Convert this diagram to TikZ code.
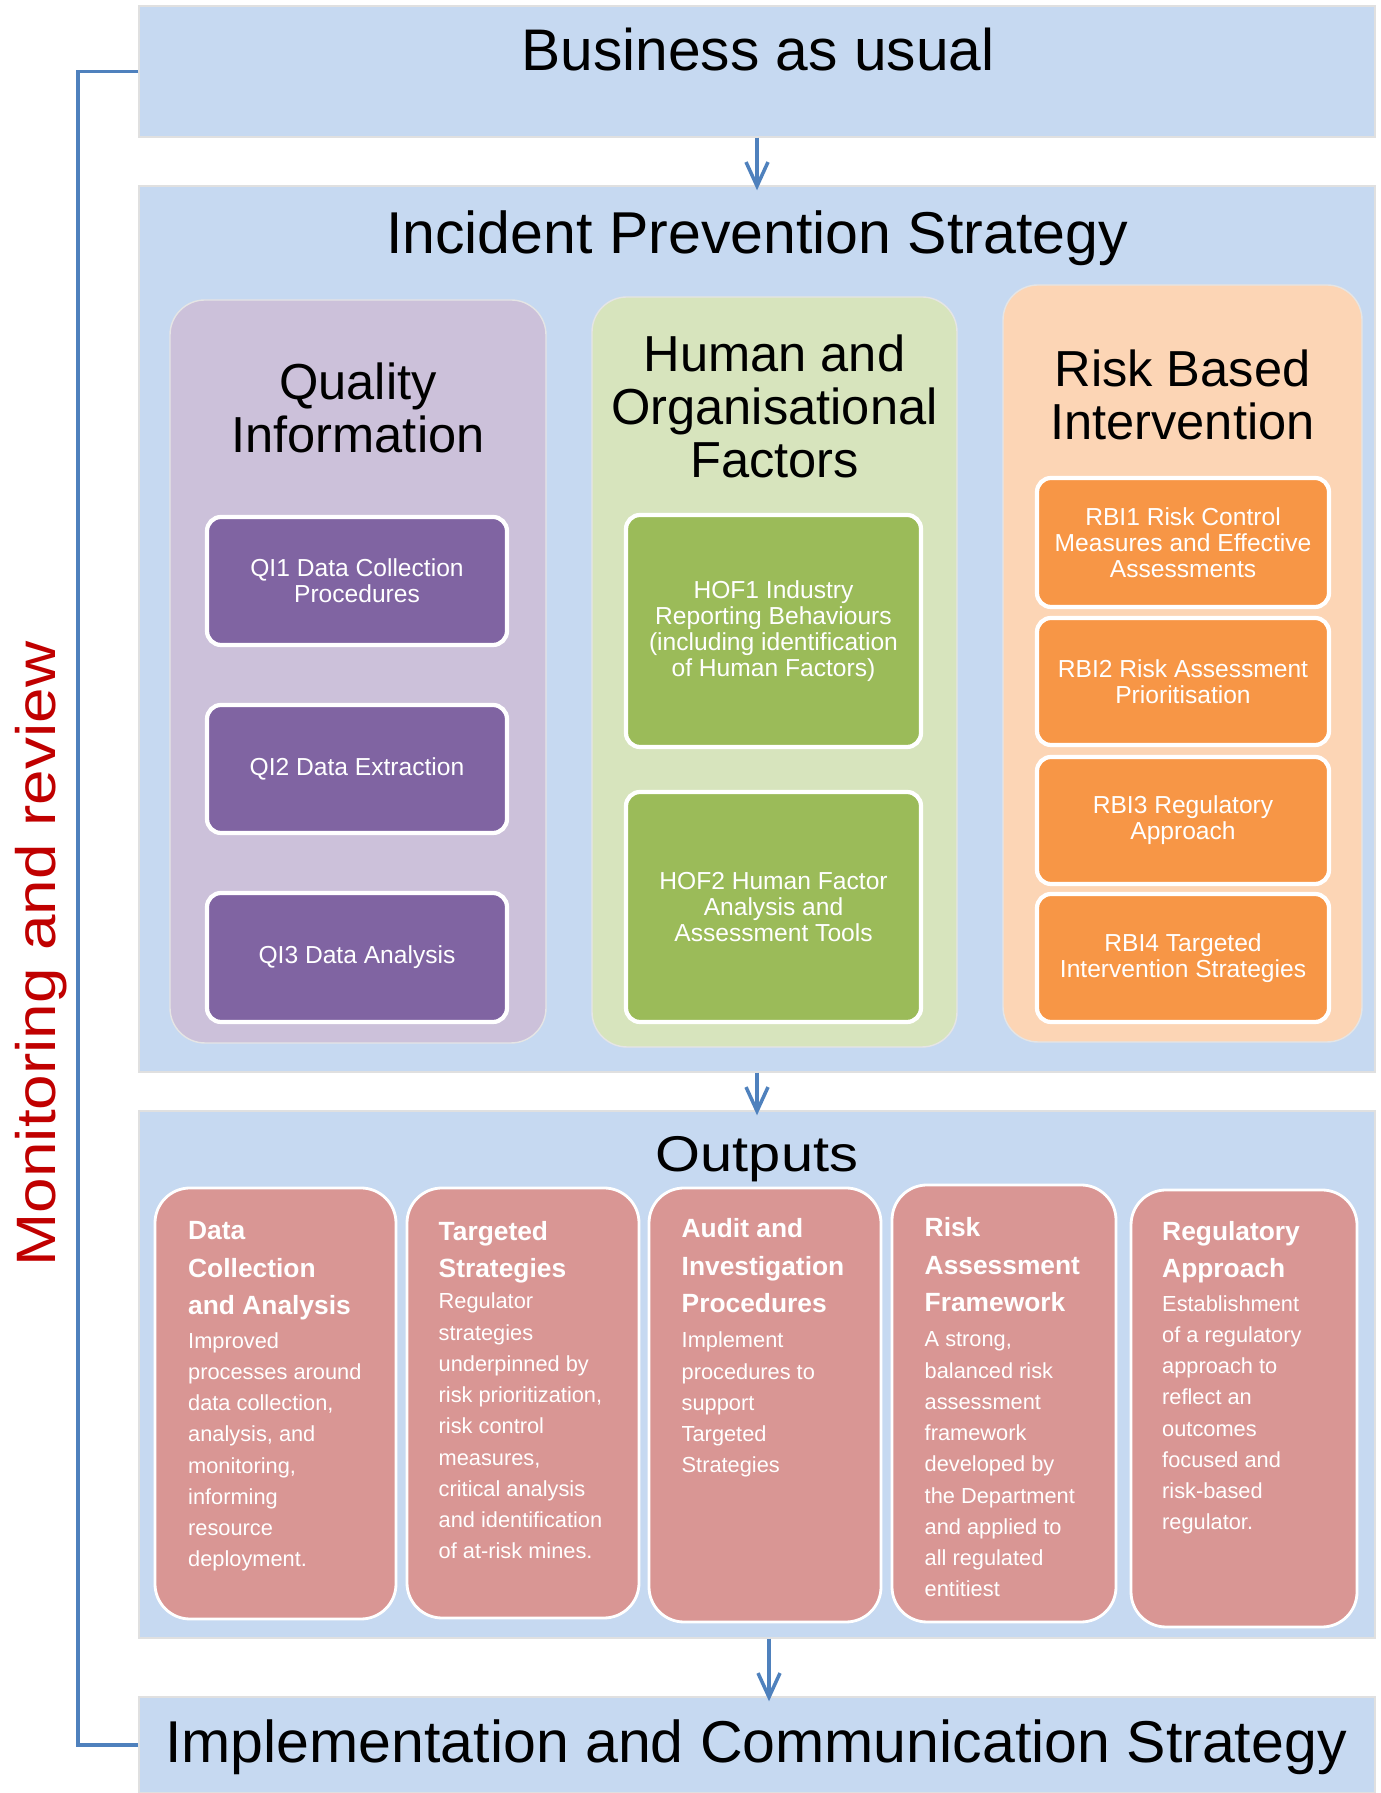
\documentclass[tikz,border=0pt]{standalone}
\usepackage{fontspec}
\setmainfont{Liberation Sans}
\newfontfamily\widefont{Liberation Sans}[FakeStretch=1.15]
\usetikzlibrary{arrows.meta}

\definecolor{bandblue}{HTML}{C6D9F1}
\definecolor{qiback}{HTML}{CCC1DA}
\definecolor{qifill}{HTML}{8064A2}
\definecolor{hofback}{HTML}{D7E4BD}
\definecolor{hoffill}{HTML}{9BBB59}
\definecolor{rbiback}{HTML}{FCD5B5}
\definecolor{rbifill}{HTML}{F79646}
\definecolor{cardfill}{HTML}{D99694}
\definecolor{linkblue}{HTML}{4F81BD}
\definecolor{revred}{HTML}{C00000}

\begin{document}
\begin{tikzpicture}[
    band/.style={draw=black!12, fill=bandblue, minimum width=12.36cm, inner sep=0pt},
    grp/.style={draw=black!10, rounded corners=0.35cm, inner sep=0pt},
    item/.style={draw=white, line width=1.2pt, rounded corners=0.14cm, text=white, align=center, font=\fontsize{7}{7.4}\selectfont, inner sep=0pt},
    card/.style={draw=white, line width=0.8pt, fill=cardfill, rounded corners=0.35cm, inner sep=0pt},
    head/.style={anchor=base, font=\fontsize{16.8}{18}\selectfont},
    sub/.style={anchor=base, align=center, font=\fontsize{14.4}{15.1}\selectfont},
    cardhd/.style={anchor=base west, align=left, text=white, inner sep=0pt, font=\fontsize{7.5}{10.7}\selectfont\bfseries},
    cardtx/.style={anchor=base west, align=left, text=white, inner sep=0pt, font=\fontsize{6.2}{8.9}\selectfont},
    arr/.style={-{Straight Barb[length=2.4mm, width=2.2mm]}, line width=1pt, linkblue, shorten >=-0.05cm}
    ]
    \useasboundingbox (0,0) rectangle (13.81,17.93);

    % bands
    \node[band, minimum height=1.31cm] (biz) at (7.57,17.215) {};
    \node[head, font=\fontsize{16.7}{18}\selectfont] (biztxt) at (7.58,17.22) {Business as usual};
    \node[band, minimum height=8.86cm] (ips) at (7.57,11.64) {};
    \node[head] (ipstxt) at (7.57,15.39) {Incident Prevention Strategy};
    \node[band, minimum height=5.27cm] (outs) at (7.57,4.185) {};
    \node[head, font=\widefont\fontsize{14.3}{16}\selectfont] (outstxt) at (7.57,6.21) {Outputs};
    \node[band, minimum height=0.96cm] (impl) at (7.57,0.48) {};
    \node[head] (impltxt) at (7.56,0.30) {Implementation and Communication Strategy};

    % quality information (multi-line nodes sit on their last baseline)
    \node[grp, fill=qiback, minimum width=3.76cm, minimum height=7.43cm] (qi) at (3.58,11.215) {};
    \node[sub] (qitxt) at (3.58,13.40) {Quality\\Information};
    \node[item, fill=qifill, minimum width=3.00cm, minimum height=1.28cm] (qi1) at (3.57,12.12) {QI1 Data Collection\\Procedures};
    \node[item, fill=qifill, minimum width=3.00cm, minimum height=1.28cm] (qi2) at (3.57,10.24) {QI2 Data Extraction};
    \node[item, fill=qifill, minimum width=3.00cm, minimum height=1.29cm] (qi3) at (3.57,8.355) {QI3 Data Analysis};

    % human and organisational factors
    \node[grp, fill=hofback, minimum width=3.65cm, minimum height=7.50cm] (hof) at (7.745,11.21) {};
    \node[sub] (hoftxt) at (7.745,13.15) {Human and\\Organisational\\Factors};
    \node[item, fill=hoffill, minimum width=2.95cm, minimum height=2.32cm] (hof1) at (7.735,11.62) {HOF1 Industry\\Reporting Behaviours\\(including identification\\of Human Factors)};
    \node[item, fill=hoffill, minimum width=2.95cm, minimum height=2.30cm] (hof2) at (7.735,8.86) {HOF2 Human Factor\\Analysis and\\Assessment Tools};

    % risk based intervention
    \node[grp, fill=rbiback, minimum width=3.59cm, minimum height=7.57cm] (rbi) at (11.825,11.295) {};
    \node[sub] (rbitxt) at (11.825,13.53) {Risk Based\\Intervention};
    \node[item, fill=rbifill, minimum width=2.92cm, minimum height=1.29cm] (rbi1) at (11.83,12.505) {RBI1 Risk Control\\Measures and Effective\\Assessments};
    \node[item, fill=rbifill, minimum width=2.92cm, minimum height=1.27cm] (rbi2) at (11.83,11.115) {RBI2 Risk Assessment\\Prioritisation};
    \node[item, fill=rbifill, minimum width=2.92cm, minimum height=1.27cm] (rbi3) at (11.83,9.725) {RBI3 Regulatory\\Approach};
    \node[item, fill=rbifill, minimum width=2.92cm, minimum height=1.28cm] (rbi4) at (11.83,8.35) {RBI4 Targeted\\Intervention Strategies};

    % output cards
    \node[card, minimum width=2.41cm, minimum height=4.31cm] (c1) at (2.755,3.895) {};
    \node[card, minimum width=2.32cm, minimum height=4.30cm] (c2) at (5.23,3.90) {};
    \node[card, minimum width=2.32cm, minimum height=4.34cm] (c3) at (7.65,3.88) {};
    \node[card, minimum width=2.24cm, minimum height=4.37cm] (c4) at (10.04,3.895) {};
    \node[card, minimum width=2.26cm, minimum height=4.37cm] (c5) at (12.44,3.845) {};

    \node[cardhd] (c1hd) at (1.875,4.78) {Data\\Collection\\and Analysis};
    \node[cardtx] (c1tx) at (1.875,2.26) {Improved\\processes around\\data collection,\\analysis, and\\monitoring,\\informing\\resource\\deployment.};
    \node[cardhd] (c2hd) at (4.38,5.15) {Targeted\\Strategies};
    \node[cardtx] (c2tx) at (4.38,2.34) {Regulator\\strategies\\underpinned by\\risk prioritization,\\risk control\\measures,\\critical analysis\\and identification\\of at-risk mines.};
    \node[cardhd] (c3hd) at (6.81,4.80) {Audit and\\Investigation\\Procedures};
    \node[cardtx] (c3tx) at (6.81,3.20) {Implement\\procedures to\\support\\Targeted\\Strategies};
    \node[cardhd] (c4hd) at (9.24,4.81) {Risk\\Assessment\\Framework};
    \node[cardtx] (c4tx) at (9.24,1.96) {A strong,\\balanced risk\\assessment\\framework\\developed by\\the Department\\and applied to\\all regulated\\entitiest};
    \node[cardhd] (c5hd) at (11.615,5.15) {Regulatory\\Approach};
    \node[cardtx] (c5tx) at (11.615,2.63) {Establishment\\of a regulatory\\approach to\\reflect an\\outcomes\\focused and\\risk-based\\regulator.};

    % review loop on the left
    \node[rotate=90, anchor=base, text=revred, font=\widefont\fontsize{15.8}{18}\selectfont] (mon) at (0.55,8.39) {Monitoring and review};
    \draw[linkblue, line width=1.1pt] (biz.west) -- ++(-0.6,0) |- (impl.west);

    \draw[arr] (biz) -- (ips);
    \draw[arr] (ips) -- (outs);
    \draw[arr] ([xshift=0.12cm]outs.south) -- ([xshift=0.12cm]impl.north);
  \end{tikzpicture}
\end{document}
